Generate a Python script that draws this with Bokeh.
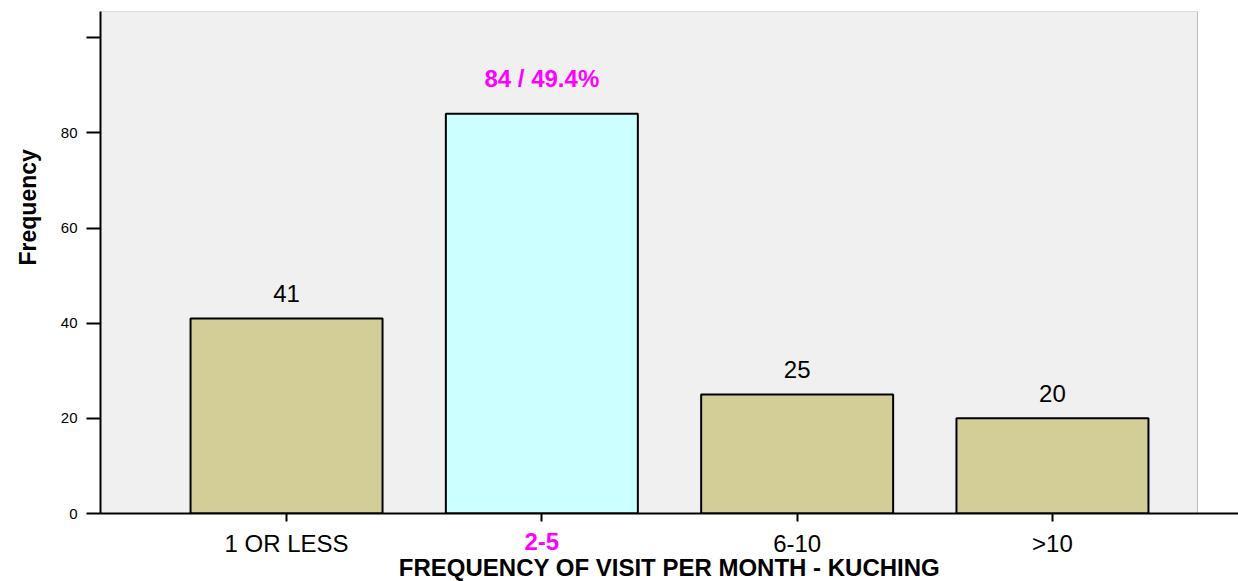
from bokeh.plotting import figure
from bokeh.models import (FactorRange, Range1d, FixedTicker, BoxAnnotation, Label,
                          LinearAxis, Title)
from bokeh.embed import file_html
from bokeh.resources import INLINE

# ---- data ----
categories = ["1 OR LESS", "2-5", "6-10", ">10"]
counts = [41, 84, 25, 20]
highlight = "2-5"
y_ticks = [0, 20, 40, 60, 80, 100]
x_title = "FREQUENCY OF VISIT PER MONTH - KUCHING"
y_title = "Frequency"

# ---- styles ----
FONT = "Liberation Sans"
BAR = "#d3ce98"
HI_BAR = "#ccffff"
HI_TEXT = "#ff00ff"
PANEL = "#f0f0f0"

total = sum(counts)
y_top = 105.5

p = figure(
    x_range=FactorRange(factors=categories, range_padding=0.2287, range_padding_units="absolute"),
    y_range=Range1d(0, y_top),
    x_axis_type=None, y_axis_type=None,
    frame_width=1138, frame_height=502,
    min_border_left=100, min_border_top=11, min_border_right=0, min_border_bottom=0,
    output_backend="svg", toolbar_location=None,
)
p.background_fill_color = "white"
p.border_fill_color = "white"
p.outline_line_color = None

# grey panel (stops before the right end of the x axis)
p.add_layout(BoxAnnotation(right=4.068, fill_color=PANEL, fill_alpha=1.0,
                           line_color="#333333", line_width=1, level="underlay"))

colors = [HI_BAR if c == highlight else BAR for c in categories]
p.vbar(x=categories, top=counts, width=0.752, fill_color=colors,
       line_color="black", line_width=2)

# ---- y axis ----
ya = LinearAxis(ticker=FixedTicker(ticks=y_ticks))
ya.major_label_overrides = {100: ""}
ya.major_tick_out = 14
ya.major_tick_in = 0
ya.minor_tick_line_color = None
ya.axis_line_width = 2
ya.major_tick_line_width = 2
ya.major_label_text_font = FONT
ya.major_label_text_font_size = "15px"
ya.major_label_text_color = "black"
ya.major_label_standoff = 9
p.add_layout(ya, "left")

# y title, placed higher than the frame centre as in the original
p.add_layout(Title(text=y_title, align="left", vertical_align="top",
                   offset=248, standoff=29,
                   text_font=FONT, text_font_size="23px", text_font_style="bold",
                   text_color="black"), "left")

# ---- x axis (ticks + plain labels) ----
centers = [i + 0.5 for i in range(len(categories))]
xa = LinearAxis(ticker=FixedTicker(ticks=centers))
xa.major_label_overrides = {c: (cat if cat != highlight else " ")
                            for c, cat in zip(centers, categories)}
xa.major_tick_out = 8
xa.major_tick_in = 0
xa.minor_tick_line_color = None
xa.axis_line_width = 2
xa.major_tick_line_width = 2
xa.major_label_text_font = FONT
xa.major_label_text_font_size = "24px"
xa.major_label_text_color = "black"
xa.major_label_standoff = 8
p.add_layout(xa, "below")

# highlighted category label + x title
hi_c = centers[categories.index(highlight)]
xb = LinearAxis(ticker=FixedTicker(ticks=[hi_c]))
xb.major_label_overrides = {hi_c: highlight}
xb.axis_line_color = None
xb.major_tick_line_color = None
xb.minor_tick_line_color = None
xb.major_tick_out = 0
xb.major_tick_in = 0
xb.major_label_text_font = FONT
xb.major_label_text_font_size = "24px"
xb.major_label_text_font_style = "bold"
xb.major_label_text_color = HI_TEXT
xb.major_label_standoff = -27
xb.axis_label = x_title
xb.axis_label_text_font = FONT
xb.axis_label_text_font_size = "24px"
xb.axis_label_text_font_style = "bold"
xb.axis_label_text_color = "black"
xb.axis_label_standoff = 1
p.add_layout(xb, "below")

# bar value labels
for i, (c, n) in enumerate(zip(categories, counts)):
    if c == highlight:
        txt = f"{n} / {100 * n / total:.1f}%"
        p.add_layout(Label(x=i + 0.5, y=n, y_offset=35, text=txt,
                           text_align="center", text_baseline="middle",
                           text_font=FONT, text_font_size="24px", text_font_style="bold",
                           text_color=HI_TEXT))
    else:
        p.add_layout(Label(x=i + 0.5, y=n, y_offset=25, text=str(n),
                           text_align="center", text_baseline="middle",
                           text_font=FONT, text_font_size="24px",
                           text_color="black"))

open("out.html", "w").write(file_html(p, INLINE))
